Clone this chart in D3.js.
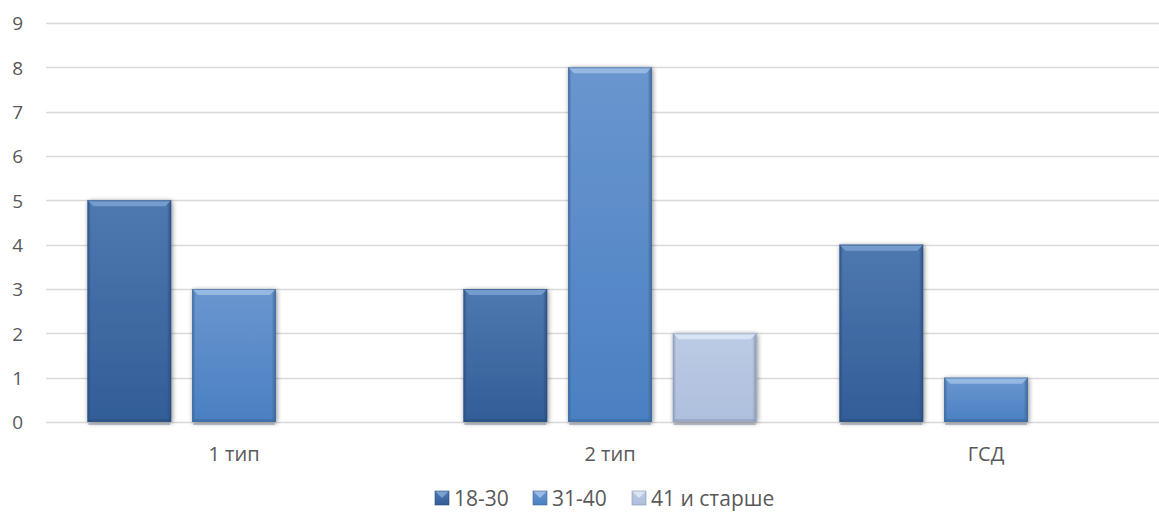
<!DOCTYPE html>
<html>
<head>
<meta charset="utf-8">
<script src="https://cdn.jsdelivr.net/npm/d3@7"></script>
<style>
  html, body { margin: 0; padding: 0; background: #fff; overflow: hidden; }
  text { font-family: "Open Sans", "Noto Sans", sans-serif; fill: #595959; }
</style>
</head>
<body>
<svg id="chart" width="1159" height="518"></svg>
<script>
// Groups and age series
const categories = ["1 тип", "2 тип", "ГСД"];
const seriesNames = ["18-30", "31-40", "41 и старше"];
const values1830 = [5, 3, 4];
const values3140 = [3, 8, 1];
const values41 = [0, 2, 0];
const yTicks = [0, 1, 2, 3, 4, 5, 6, 7, 8, 9];

const seriesValues = [values1830, values3140, values41];
// colour sets per series: body top, body bottom, bevel light, edge dark
const palette = [
  { top: "#4e78b0", bottom: "#325d96", bevel: "#7aa0d2", edge: "#284c7c" },
  { top: "#6a96cf", bottom: "#4a80c2", bevel: "#9bbce6", edge: "#3a6496" },
  { top: "#bccbe5", bottom: "#aebfdd", bevel: "#dbe5f4", edge: "#8494b0" }
];

const svg = d3.select("#chart");
const margin = { left: 46, right: -15, top: 23, bottom: 96 };
const W = 1159, H = 518;
const plotW = W - margin.left - margin.right;
const plotH = H - margin.top - margin.bottom;

const defs = svg.append("defs");
const shadow = defs.append("filter").attr("id", "shadow")
  .attr("x", "-20%").attr("y", "-20%").attr("width", "140%").attr("height", "140%");
shadow.append("feGaussianBlur").attr("in", "SourceAlpha").attr("stdDeviation", 2.5).attr("result", "b");
shadow.append("feOffset").attr("in", "b").attr("dx", 1).attr("dy", 1).attr("result", "o");
shadow.append("feComponentTransfer").attr("in", "o").attr("result", "s")
  .append("feFuncA").attr("type", "linear").attr("slope", 0.45);
const merge = shadow.append("feMerge");
merge.append("feMergeNode").attr("in", "s");
merge.append("feMergeNode").attr("in", "SourceGraphic");

palette.forEach((p, i) => {
  const g = defs.append("linearGradient").attr("id", "body" + i)
    .attr("x1", 0).attr("y1", 0).attr("x2", 0).attr("y2", 1);
  g.append("stop").attr("offset", "0%").attr("stop-color", p.top);
  g.append("stop").attr("offset", "100%").attr("stop-color", p.bottom);
  const s = defs.append("linearGradient").attr("id", "side" + i)
    .attr("x1", 0).attr("y1", 0).attr("x2", 1).attr("y2", 0);
  s.append("stop").attr("offset", "0%").attr("stop-color", p.edge).attr("stop-opacity", 0.9);
  s.append("stop").attr("offset", "4%").attr("stop-color", p.edge).attr("stop-opacity", 0);
  s.append("stop").attr("offset", "95%").attr("stop-color", p.edge).attr("stop-opacity", 0);
  s.append("stop").attr("offset", "100%").attr("stop-color", p.edge).attr("stop-opacity", 0.95);
});

const g = svg.append("g").attr("transform", `translate(${margin.left},${margin.top})`);

const y = d3.scaleLinear().domain([0, 9]).range([plotH, 0]);
const x0 = d3.scaleBand().domain(categories).range([0, plotW]).paddingInner(0).paddingOuter(0);
const x1 = d3.scaleBand().domain(seriesNames).range([41.5, x0.bandwidth() - 41.5]).paddingInner(0.2);

// gridlines
g.append("g").selectAll("line").data(yTicks).join("line")
  .attr("x1", 0).attr("x2", plotW)
  .attr("y1", d => Math.round(y(d)) + 0.5).attr("y2", d => Math.round(y(d)) + 0.5)
  .attr("stroke", "#d9d9d9").attr("stroke-width", 1.3);

// y axis labels
const yAxis = d3.axisLeft(y).tickValues(yTicks).tickSize(0).tickPadding(23);
const ya = g.append("g").call(yAxis);
ya.select(".domain").remove();
ya.selectAll("text").style("font-size", "19px").attr("fill", "#595959")
  .attr("font-family", null).attr("dy", "0.36em");

// x axis labels
const xAxis = d3.axisBottom(x0).tickSize(0).tickPadding(25);
const xa = g.append("g").attr("transform", `translate(0,${plotH})`).call(xAxis);
xa.select(".domain").remove();
xa.selectAll("text").style("font-size", "20px").attr("fill", "#595959").attr("font-family", null);

// bars
const bev = 6;
categories.forEach((cat, ci) => {
  seriesNames.forEach((s, si) => {
    const v = seriesValues[si][ci];
    if (!v) return;
    const bx = x0(cat) + x1(s);
    const bw = x1.bandwidth();
    const by = y(v);
    const bh = y(0) - y(v);
    const bg = g.append("g").attr("filter", "url(#shadow)");
    bg.append("rect").attr("x", bx).attr("y", by).attr("width", bw).attr("height", bh)
      .attr("fill", `url(#body${si})`);
    bg.append("rect").attr("x", bx).attr("y", by).attr("width", bw).attr("height", bh)
      .attr("fill", `url(#side${si})`);
    // top bevel
    bg.append("path")
      .attr("d", `M${bx},${by}L${bx + bw},${by}L${bx + bw - bev},${by + bev}L${bx + bev},${by + bev}Z`)
      .attr("fill", palette[si].bevel).attr("opacity", 0.9);
    bg.append("line").attr("x1", bx).attr("x2", bx + bw).attr("y1", by + 0.5).attr("y2", by + 0.5)
      .attr("stroke", palette[si].edge).attr("stroke-width", 1).attr("opacity", 0.6);
    // bottom bevel
    bg.append("path")
      .attr("d", `M${bx},${by + bh}L${bx + bw},${by + bh}L${bx + bw - 3},${by + bh - 3}L${bx + 3},${by + bh - 3}Z`)
      .attr("fill", palette[si].edge).attr("opacity", 0.5);
    // reflection line under the bar
    g.append("rect").attr("x", bx + 1).attr("y", y(0) + 1).attr("width", bw - 2).attr("height", 2)
      .attr("fill", "#9aa3ae").attr("opacity", 0.7);
  });
});

// legend
const legendItems = [
  { name: seriesNames[0], x: 435 },
  { name: seriesNames[1], x: 533 },
  { name: seriesNames[2], x: 632 }
];
const lg = svg.append("g");
const m = 14;
legendItems.forEach((it, i) => {
  const item = lg.append("g").attr("transform", `translate(${it.x},491)`);
  item.append("rect").attr("width", m).attr("height", m).attr("fill", `url(#body${i})`);
  item.append("path").attr("d", `M0,0L${m},0L${m / 2},${m / 2}Z`).attr("fill", palette[i].bevel);
  item.append("rect").attr("width", m).attr("height", m).attr("fill", "none")
    .attr("stroke", palette[i].edge).attr("stroke-width", 0.6);
  item.append("text").attr("x", m + 5).attr("y", 15)
    .style("font-size", "21px").text(it.name);
});
</script>
</body>
</html>
